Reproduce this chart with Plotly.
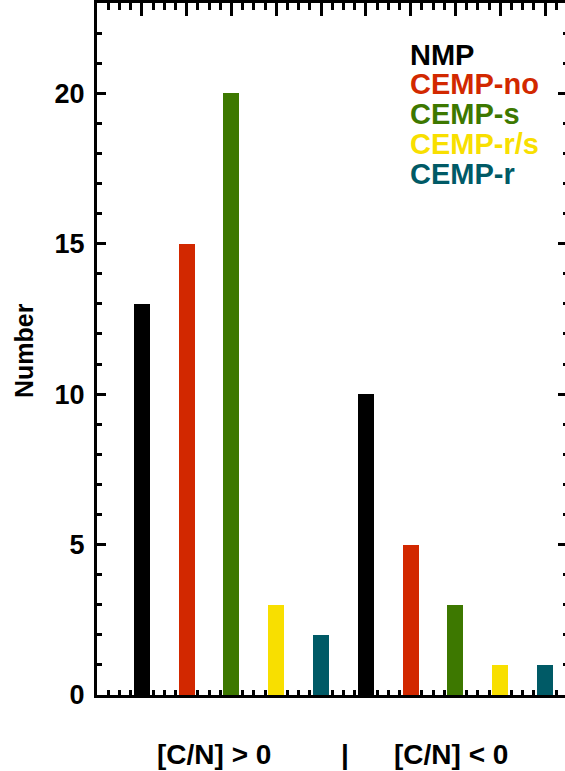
import plotly.graph_objects as go

# ---- data ----
classes = ["NMP", "CEMP-no", "CEMP-s", "CEMP-r/s", "CEMP-r"]
counts_cn_pos = [13, 15, 20, 3, 2]   # [C/N] > 0
counts_cn_neg = [10, 5, 3, 1, 1]     # [C/N] < 0
group_labels = ["[C/N] > 0", "[C/N] < 0"]
colors = ["#000000", "#d22800", "#3d7800", "#f8df00", "#005a66"]

W, H = 565, 771
ML, MR, MT, MB = 97, 0, 3, 76
plot_w = W - ML - MR
px_per_unit = 44.8
xmax = plot_w / px_per_unit
FONT = "Liberation Sans, Arial, Helvetica, sans-serif"
FS_TICK = 27
FS_LEG = 29
FS_XLAB = 28
FS_YLAB = 25

fig = go.Figure()
n = len(classes)
for i, (name, col) in enumerate(zip(classes, colors)):
    fig.add_trace(go.Bar(
        x=[i + 1, i + 1 + n],
        y=[counts_cn_pos[i], counts_cn_neg[i]],
        name=name,
        marker=dict(color=col, line=dict(width=0)),
        width=0.36,
        showlegend=False,
    ))

# invisible trace to activate secondary axes
fig.add_trace(go.Scatter(x=[0], y=[0], xaxis="x2", yaxis="y2",
                         mode="markers", marker=dict(opacity=0),
                         showlegend=False, hoverinfo="skip"))

axis_common = dict(showgrid=False, zeroline=False, color="black")

fig.update_layout(
    width=W, height=H,
    margin=dict(l=ML, r=MR, t=MT, b=MB, pad=0),
    paper_bgcolor="white", plot_bgcolor="white",
    font=dict(family=FONT, color="black", size=FS_TICK),
    bargap=0,
    xaxis=dict(range=[0, xmax], showline=True, linewidth=3, linecolor="black",
               ticks="inside", tick0=0, dtick=1, ticklen=13, tickwidth=2.5,
               tickcolor="black", showticklabels=False, layer="below traces",
               minor=dict(ticks="inside", dtick=0.25, ticklen=5, tickwidth=2.5,
                          tickcolor="black"),
               **axis_common),
    xaxis2=dict(range=[0, xmax], overlaying="x", side="top", anchor="y",
                showline=True, linewidth=3, linecolor="black",
                ticks="inside", tick0=0, dtick=1, ticklen=13, tickwidth=2.5,
                tickcolor="black", showticklabels=False,
                minor=dict(ticks="inside", dtick=0.25, ticklen=6.5, tickwidth=2.5,
                           tickcolor="black"),
                **axis_common),
    yaxis=dict(range=[0, 23], showline=True, linewidth=3, linecolor="black",
               ticks="inside", tick0=0, dtick=5, ticklen=9, tickwidth=2.5,
               tickcolor="black", ticklabelstandoff=4,
               tickfont=dict(family=FONT, size=FS_TICK, weight="bold", color="black"),
               minor=dict(ticks="inside", dtick=1, ticklen=4.5, tickwidth=2.5,
                          tickcolor="black"),
               **axis_common),
    yaxis2=dict(range=[0, 23], overlaying="y", side="right", anchor="x",
                showline=False, ticks="inside", tick0=0, dtick=5, ticklen=7,
                tickwidth=2.5, tickcolor="black", showticklabels=False,
                minor=dict(ticks="inside", dtick=1, ticklen=2.5, tickwidth=2.5,
                           tickcolor="black"),
                **axis_common),
)

plot_h = H - MT - MB

def ypaper(ypx):
    return (H - MB - ypx) / plot_h

def xpaper(xpx):
    return (xpx - ML) / plot_w

# legend as coloured text
legend_y = [53, 82, 112, 142, 172]
for name, col, yy in zip(classes, colors, legend_y):
    fig.add_annotation(text="<b>%s</b>" % name, xref="paper", yref="paper",
                       x=xpaper(408), y=ypaper(yy + 2), xanchor="left", yanchor="middle",
                       showarrow=False, font=dict(family=FONT, size=FS_LEG, color=col))

# y-axis title
fig.add_annotation(text="<b>Number</b>", xref="paper", yref="paper",
                   x=xpaper(24), y=ypaper(351), xanchor="center", yanchor="middle",
                   textangle=-90, showarrow=False,
                   font=dict(family=FONT, size=FS_YLAB, color="black"))

# group labels under the x axis
for txt, xc in zip([group_labels[0], "|", group_labels[1]], [214, 345, 451]):
    fig.add_annotation(text="<b>%s</b>" % txt, xref="paper", yref="paper",
                       x=xpaper(xc), y=ypaper(754), xanchor="center", yanchor="middle",
                       showarrow=False, font=dict(family=FONT, size=FS_XLAB, color="black"))

fig.write_html("out.html",
               config={"displayModeBar": False},
               post_script="document.body.style.margin='0';document.body.style.padding='0';")
